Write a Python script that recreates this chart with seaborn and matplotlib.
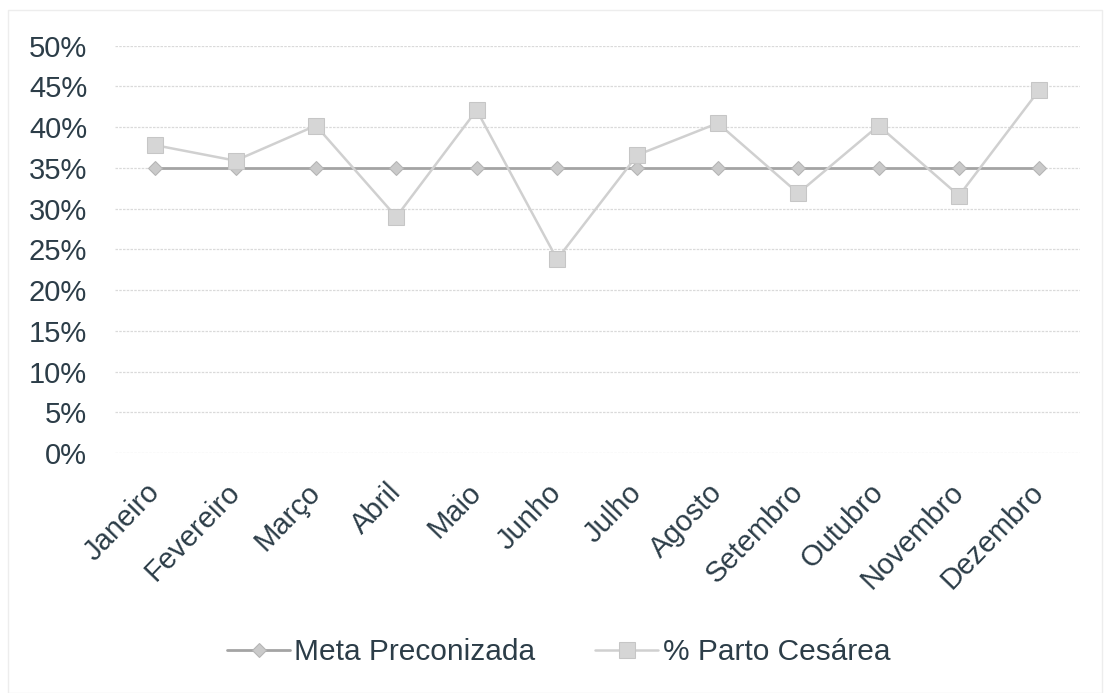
import pandas as pd
import matplotlib.pyplot as plt
import seaborn as sns
from matplotlib.ticker import PercentFormatter

# data
meses = ["Janeiro", "Fevereiro", "Março", "Abril", "Maio", "Junho",
         "Julho", "Agosto", "Setembro", "Outubro", "Novembro", "Dezembro"]
meta = [0.35] * 12
cesarea = [0.378, 0.359, 0.402, 0.290, 0.421, 0.238,
           0.366, 0.405, 0.319, 0.402, 0.316, 0.446]

df = pd.DataFrame({"Mes": meses, "Meta": meta, "Cesarea": cesarea})

sns.set_style("white")
plt.rcParams['font.family'] = ['Liberation Sans', 'DejaVu Sans']

fig = plt.figure(figsize=(11.05, 6.93), dpi=100)
ax = fig.add_axes([0.104, 0.346, 0.873, 0.588])

text_col = "#2c3d48"

sns.lineplot(data=df, x="Mes", y="Meta", ax=ax, sort=False, color="#a4a4a4",
             marker="D", markersize=7, markerfacecolor="#cacaca",
             markeredgecolor="#b4b4b4", linewidth=2, label="Meta Preconizada")
sns.lineplot(data=df, x="Mes", y="Cesarea", ax=ax, sort=False, color="#d0d0d0",
             marker="s", markersize=12, markerfacecolor="#d6d6d6",
             markeredgecolor="#c6c6c6", linewidth=1.8, label="% Parto Cesárea")

ax.set_ylim(0, 0.5)
ax.set_xlim(-0.5, 11.5)
ax.set_yticks([i * 0.05 for i in range(11)])
ax.yaxis.set_major_formatter(PercentFormatter(1.0, decimals=0))
ax.grid(axis="y", color="#dadada", linestyle=(0, (2, 1)), linewidth=0.9)
ax.set_axisbelow(True)
for s in ax.spines.values():
    s.set_visible(False)

ax.set_xlabel("")
ax.set_ylabel("")
ax.tick_params(axis="y", length=0, labelsize=21, colors=text_col, pad=20)
ax.tick_params(axis="x", length=0, labelsize=21, colors=text_col, pad=25)
plt.setp(ax.get_xticklabels(), rotation=46, ha="right", va="center",
         rotation_mode="anchor")

ax.legend(loc="center", bbox_to_anchor=(0.46, -0.489), ncol=2, frameon=False,
          fontsize=21.5, labelcolor=text_col, handlelength=2.1, columnspacing=2.0,
          handletextpad=0.15)

# faint outer border of the chart area
fig.patches.append(plt.Rectangle((0.007, 0.0), 0.99, 0.985, transform=fig.transFigure,
                                 fill=False, edgecolor="#ededed", linewidth=1))

fig.savefig("out.png", dpi=100, facecolor="white")
